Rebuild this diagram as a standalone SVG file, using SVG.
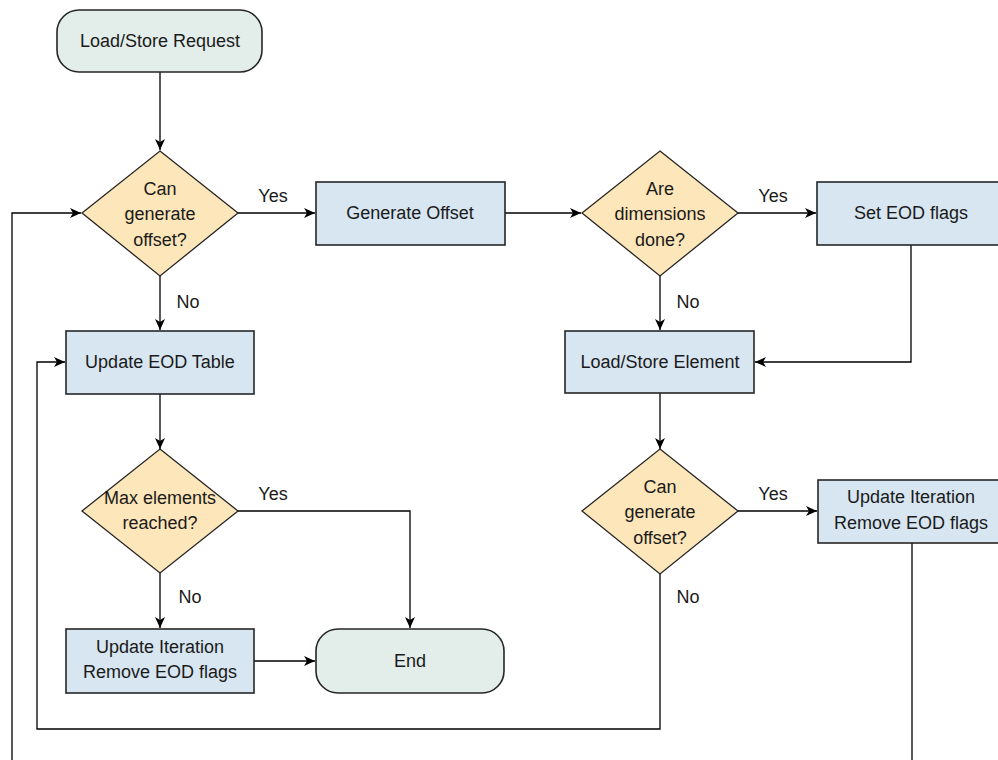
<svg xmlns="http://www.w3.org/2000/svg" width="998" height="760" viewBox="0 0 998 760">
  <style>
    .term { fill: #e3eeea; stroke: #262626; stroke-width: 1.6; }
    .proc { fill: #d7e6f1; stroke: #262626; stroke-width: 1.6; }
    .dec  { fill: #fde6b9; stroke: #262626; stroke-width: 1.3; }
    .edge { fill: none; stroke: #000; stroke-width: 1.3; }
    text { font-family: "Liberation Sans", Arial, sans-serif; font-size: 18px; fill: #1a1a1a; text-anchor: middle; }
  </style>
  <defs>
    <marker id="arrow" markerUnits="userSpaceOnUse" markerWidth="12" markerHeight="10" refX="11" refY="5" orient="auto">
      <path d="M0,0 L11,5 L0,10 L3,5 z" fill="#000"/>
    </marker>
  </defs>

  <rect width="998" height="760" fill="#ffffff"/>

  <!-- connectors -->
  <g id="connectors">
    <path class="edge" d="M160,72 V150" marker-end="url(#arrow)"/>
    <path class="edge" d="M238,213 H315" marker-end="url(#arrow)"/>
    <path class="edge" d="M505,213 H581" marker-end="url(#arrow)"/>
    <path class="edge" d="M738,213 H816" marker-end="url(#arrow)"/>
    <path class="edge" d="M160,276 V330" marker-end="url(#arrow)"/>
    <path class="edge" d="M660,276 V330" marker-end="url(#arrow)"/>
    <path class="edge" d="M911,245 V362 H755" marker-end="url(#arrow)"/>
    <path class="edge" d="M160,394 V449" marker-end="url(#arrow)"/>
    <path class="edge" d="M660,393 V449" marker-end="url(#arrow)"/>
    <path class="edge" d="M238,511 H410 V628" marker-end="url(#arrow)"/>
    <path class="edge" d="M160,573 V628" marker-end="url(#arrow)"/>
    <path class="edge" d="M254,661 H315" marker-end="url(#arrow)"/>
    <path class="edge" d="M738,511 H817" marker-end="url(#arrow)"/>
    <path class="edge" d="M660,574 V729 H37 V362 H65" marker-end="url(#arrow)"/>
    <path class="edge" d="M12,770 V213 H81" marker-end="url(#arrow)"/>
    <path class="edge" d="M912,543 V770"/>

    <text x="273" y="202">Yes</text>
    <text x="773" y="202">Yes</text>
    <text x="188" y="308">No</text>
    <text x="688" y="308">No</text>
    <text x="273" y="500">Yes</text>
    <text x="773" y="500">Yes</text>
    <text x="190" y="603">No</text>
    <text x="688" y="603">No</text>
  </g>

  <g id="start">
    <rect class="term" x="57" y="10" width="205" height="62" rx="22" ry="22"/>
    <text x="160" y="47">Load/Store Request</text>
  </g>

  <g id="can-generate-1">
    <polygon class="dec" points="160,151 238,213 160,276 82,213"/>
    <text x="160" y="195">Can</text>
    <text x="160" y="220">generate</text>
    <text x="160" y="246">offset?</text>
  </g>

  <g id="generate-offset">
    <rect class="proc" x="316" y="182" width="189" height="63"/>
    <text x="410" y="219">Generate Offset</text>
  </g>

  <g id="dims-done">
    <polygon class="dec" points="660,151 738,213 660,276 582,213"/>
    <text x="660" y="195">Are</text>
    <text x="660" y="220">dimensions</text>
    <text x="660" y="246">done?</text>
  </g>

  <g id="set-eod">
    <rect class="proc" x="817" y="182" width="190" height="63"/>
    <text x="911" y="219">Set EOD flags</text>
  </g>

  <g id="update-eod-table">
    <rect class="proc" x="66" y="331" width="188" height="63"/>
    <text x="160" y="368">Update EOD Table</text>
  </g>

  <g id="load-store-element">
    <rect class="proc" x="565" y="331" width="189" height="62"/>
    <text x="660" y="368">Load/Store Element</text>
  </g>

  <g id="max-elements">
    <polygon class="dec" points="160,449 238,511 160,573 82,511"/>
    <text x="160" y="504">Max elements</text>
    <text x="160" y="529">reached?</text>
  </g>

  <g id="can-generate-2">
    <polygon class="dec" points="660,449 738,511 660,574 582,511"/>
    <text x="660" y="493">Can</text>
    <text x="660" y="518">generate</text>
    <text x="660" y="544">offset?</text>
  </g>

  <g id="update-iteration-right">
    <rect class="proc" x="818" y="480" width="190" height="63"/>
    <text x="911" y="503">Update Iteration</text>
    <text x="911" y="529">Remove EOD flags</text>
  </g>

  <g id="update-iteration-left">
    <rect class="proc" x="66" y="629" width="188" height="64"/>
    <text x="160" y="653">Update Iteration</text>
    <text x="160" y="678">Remove EOD flags</text>
  </g>

  <g id="end">
    <rect class="term" x="316" y="629" width="188" height="64" rx="22" ry="22"/>
    <text x="410" y="667">End</text>
  </g>
</svg>
